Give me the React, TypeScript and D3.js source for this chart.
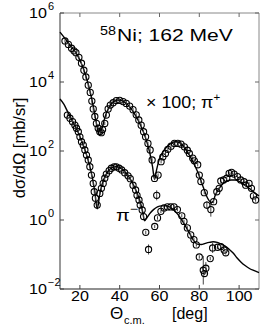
import React from 'react';
import * as d3 from 'd3';

// measured points [theta (deg), dsigma/dOmega (mb/sr), error factor]
const piPlusData: number[][] = [
  [12.5, 1.55e5], [14.2, 1.23e5], [15.8, 9.5e4], [17.0, 8.0e4], [18.0, 7.1e4], [19.5, 5.2e4],
  [20.8, 3.5e4], [22.0, 2.2e4], [23.0, 1.4e4], [24.2, 8.1e3], [25.2, 5.0e3], [26.0, 2.8e3],
  [26.7, 1.66e3], [27.5, 1.0e3], [28.3, 630], [29.2, 457], [30.0, 363], [30.8, 339],
  [31.4, 417], [32.5, 630], [33.3, 1.1e3], [34.2, 1.66e3], [35.3, 2.14e3], [36.7, 2.5e3],
  [38.3, 2.9e3], [40.0, 2.95e3], [41.7, 2.7e3], [43.3, 2.4e3], [45.0, 2.0e3], [46.7, 1.58e3],
  [48.3, 1.12e3], [49.6, 794], [50.8, 562], [52.0, 363], [53.0, 257], [54.2, 166],
  [55.3, 107], [56.3, 55], [57.5, 16], [58.6, 5.2, 1.4], [59.3, 20], [60.8, 49], [61.7, 68],
  [63.0, 85], [64.2, 112], [65.8, 138], [67.5, 166], [69.2, 166], [70.8, 158], [72.5, 132],
  [74.0, 105], [75.0, 85], [76.7, 62], [77.5, 52], [79.2, 40], [80.0, 20], [80.8, 13],
  [82.5, 6.2], [83.8, 2.7, 1.3], [85.8, 2.0, 1.6], [87.2, 3.4], [88.8, 6.6], [90.0, 8.3],
  [90.8, 13.5], [92.2, 14.5], [93.8, 16.2], [95.0, 22.4], [96.2, 24], [97.5, 21.4],
  [99.2, 18.2], [100.8, 14.5], [102.5, 12.9], [103.3, 10.2], [105.0, 11.5], [106.2, 8.3],
  [107.2, 5.0], [108.3, 3.8],
];

const piMinusData: number[][] = [
  [13.7, 1.1e3], [15.0, 890], [16.3, 708], [17.5, 562], [18.3, 457], [19.2, 363],
  [20.0, 257], [20.8, 186], [21.7, 148], [22.5, 107], [23.3, 76], [24.2, 55],
  [25.0, 35], [25.8, 20], [26.7, 11.5], [27.2, 6.6], [27.8, 4.3], [28.7, 2.7],
  [30.0, 5.9], [30.8, 8.3], [31.7, 11.5], [32.5, 16.2], [33.3, 21.4], [34.7, 26.9],
  [35.8, 31.6], [37.2, 34.7], [38.3, 34.7], [39.7, 31.6], [41.0, 28.2], [42.5, 23.4],
  [44.2, 19.1], [45.3, 15.8], [46.7, 10.2], [48.0, 7.4], [48.7, 5.2], [49.7, 3.8],
  [50.3, 2.7], [51.3, 1.95], [52.0, 1.26], [53.1, 0.44], [54.5, 0.14, 1.4], [57.6, 0.65],
  [59.0, 1.15], [60.7, 1.78], [62.3, 2.24], [64.0, 2.4], [65.7, 2.4], [67.3, 2.4],
  [69.0, 2.0], [71.2, 1.32], [72.3, 0.91], [74.0, 0.59], [75.7, 0.37], [77.3, 0.27],
  [78.5, 0.19], [80.0, 0.085], [82.0, 0.035, 2.6], [82.6, 0.028], [83.3, 0.04, 1.5],
  [85.5, 0.076], [86.7, 0.155, 1.4], [89.2, 0.162], [90.8, 0.17], [92.5, 0.135], [93.3, 0.112],
];

// model curves [theta, value]
const piPlusFit: number[][] = [
  [10, 2.8e5], [12, 2.0e5], [14, 1.41e5], [16, 1.0e5], [18, 7.1e4], [20, 4.3e4],
  [22, 2.24e4], [24, 9.5e3], [26, 3.16e3], [28, 794], [29, 398], [30, 288], [31, 380],
  [32, 708], [33, 1.12e3], [35, 2.0e3], [37, 2.7e3], [39, 3.0e3], [41, 2.9e3], [43, 2.45e3],
  [45, 1.9e3], [47, 1.32e3], [49, 832], [51, 479], [53, 240], [55, 95], [56.5, 35],
  [57.5, 15], [58.5, 28], [60, 60], [62, 100], [64, 138], [66, 170], [68, 186], [70, 174],
  [72, 138], [74, 95], [76, 60], [78, 35], [80, 19], [82, 8.9], [84, 4.5], [86, 3.2],
  [87, 3.5], [88, 5.2], [90, 8.3], [92, 11.5], [94, 13.5], [96, 14.5], [98, 14.5],
  [100, 13.2], [102, 11.2], [104, 9.3], [106, 7.6], [108, 6.0], [110, 5.0],
];

const piMinusFit: number[][] = [
  [10, 3.2e3], [12, 2.24e3], [14, 1.32e3], [16, 794], [18, 479], [20, 263], [22, 132],
  [24, 58], [26, 20], [27.5, 6.6], [28.7, 2.1], [30, 5.6], [31, 10], [32, 15.1],
  [34, 25], [36, 33], [38, 35.5], [40, 33], [42, 27], [44, 20], [46, 13.2], [48, 7.6],
  [50, 3.8], [51.5, 1.78], [52.5, 0.95], [53.5, 1.12], [55, 1.51], [57, 2.0], [59, 2.4],
  [61, 2.57], [63, 2.57], [65, 2.4], [67, 2.0], [69, 1.51], [71, 1.05], [73, 0.68],
  [75, 0.42], [77, 0.26], [79, 0.2], [81, 0.195], [83, 0.21], [85, 0.224], [87, 0.234],
  [89, 0.224], [91, 0.2], [93, 0.174], [95, 0.141], [97, 0.11], [99, 0.079], [101, 0.06],
  [103, 0.048], [105, 0.04], [107, 0.035], [110, 0.03],
];

const xTicks = [20, 40, 60, 80, 100];
const yExponents = [-2, 0, 2, 4, 6];

const font = '"Liberation Sans", Arial, Helvetica, sans-serif';

// the original figure's lettering is a bit wide, so stretch text horizontally
const T = ({ x, y, size, sx = 1.18, anchor = 'start', children }: any) => (
  <text transform={`translate(${x},${y}) scale(${sx},1)`} fontFamily={font} fontSize={size} textAnchor={anchor}>
    {children}
  </text>
);

export default function App() {
  const x = d3.scaleLinear().domain([10, 110]).range([60, 259]);
  const y = d3.scaleLog().domain([1e-2, 1e6]).range([289, 13]);

  const line = d3.line<number[]>()
    .x(d => x(d[0]))
    .y(d => y(d[1]))
    .curve(d3.curveMonotoneX);

  const points = (data: number[][], key: string) =>
    data.map((d, i) => {
      const f = d[2] || 1.12;
      return (
        <g key={key + i}>
          <line x1={x(d[0])} x2={x(d[0])} y1={y(d[1] * f)} y2={y(d[1] / f)} stroke="#444" strokeWidth={1} />
          <circle cx={x(d[0])} cy={y(d[1])} r={3.1} fill="none" stroke="#000" strokeWidth={1.1} />
        </g>
      );
    });

  return (
    <svg width={266} height={327} style={{ position: 'absolute', left: 0, top: 0, background: '#fff' }}>
      {/* frame */}
      <line x1={60} x2={259} y1={13} y2={13} stroke="#888" strokeWidth={1} />
      <line x1={259} x2={259} y1={13} y2={289} stroke="#888" strokeWidth={1} />
      <line x1={60} x2={60} y1={13} y2={289} stroke="#555" strokeWidth={1.2} />
      <line x1={60} x2={259} y1={289} y2={289} stroke="#222" strokeWidth={1.2} />

      {xTicks.map(t => (
        <g key={'xt' + t}>
          <line x1={x(t)} x2={x(t)} y1={289} y2={285} stroke="#444" />
          <line x1={x(t)} x2={x(t)} y1={13} y2={17} stroke="#666" />
          <T x={x(t)} y={301} size={14} sx={1.15} anchor="middle">{t}</T>
        </g>
      ))}
      {yExponents.map(e => (
        <g key={'yt' + e}>
          <line x1={60} x2={64} y1={y(10 ** e)} y2={y(10 ** e)} stroke="#444" />
          <line x1={259} x2={255} y1={y(10 ** e)} y2={y(10 ** e)} stroke="#666" />
          <T x={47} y={y(10 ** e) + 5} size={14} sx={1.15} anchor="end">10</T>
          <T x={48} y={y(10 ** e) - 3} size={10} sx={1.1}>{e < 0 ? '\u2212' + -e : e}</T>
        </g>
      ))}

      <path d={line(piPlusFit) || ''} fill="none" stroke="#000" strokeWidth={1.4} />
      <path d={line(piMinusFit) || ''} fill="none" stroke="#000" strokeWidth={1.4} />
      {points(piPlusData, 'p')}
      {points(piMinusData, 'm')}

      {/* annotations */}
      <T x={100} y={35} size={12} sx={1.2}>58</T>
      <T x={117} y={41} size={17} sx={1.24}>Ni; 162 MeV</T>
      <T x={146} y={108} size={17} sx={1.05}>
        {'\u00d7 100; \u03c0'}
        <tspan fontSize={11} dy={-7}>+</tspan>
      </T>
      <T x={116} y={221} size={17} sx={1.18}>
        {'\u03c0'}
        <tspan fontSize={12} dy={-8}>{'\u2212'}</tspan>
      </T>

      {/* axis titles */}
      <text transform="translate(25,148) rotate(-90)" textAnchor="middle" fontFamily={font} fontSize={16.5}>
        {'d\u03c3/d\u03a9 [mb/sr]'}
      </text>
      <text x={110} y={319} fontFamily={font} fontSize={17}>{'\u0398'}</text>
      <text x={124} y={324} fontFamily={font} fontSize={11}>c.m.</text>
      <text x={172} y={318.5} fontFamily={font} fontSize={16}>[deg]</text>
    </svg>
  );
}
